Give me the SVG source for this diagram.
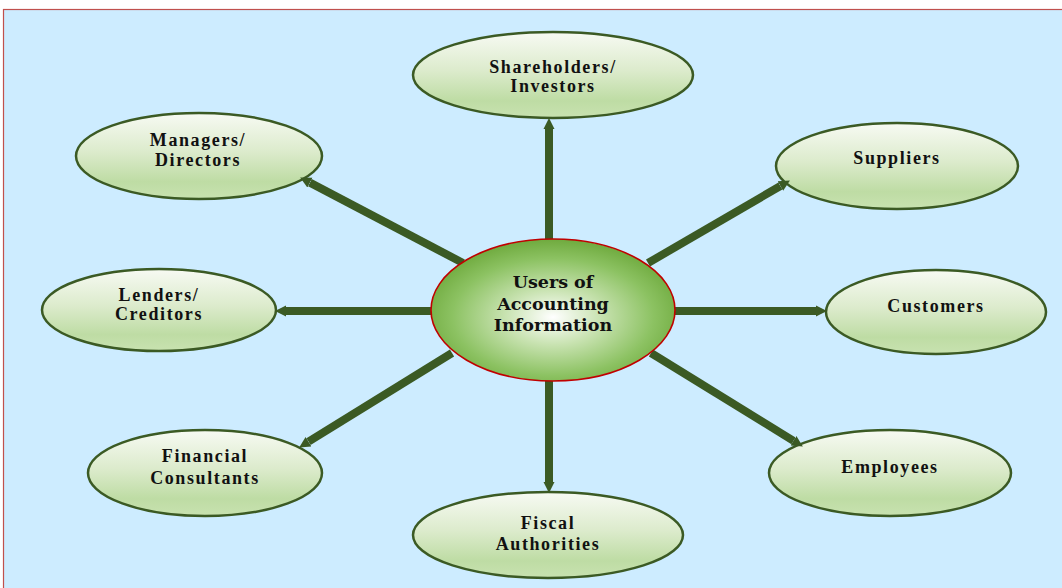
<svg xmlns="http://www.w3.org/2000/svg" width="1062" height="588" viewBox="0 0 1062 588">
  <defs>
    <linearGradient id="nodeFill" x1="0" y1="0" x2="0" y2="1">
      <stop offset="0" stop-color="#f7faf3"/>
      <stop offset="0.45" stop-color="#dcebcc"/>
      <stop offset="0.8" stop-color="#bedca4"/>
      <stop offset="1" stop-color="#c8e2b0"/>
    </linearGradient>
    <radialGradient id="centerFill" cx="0.5" cy="0.55" r="0.55">
      <stop offset="0" stop-color="#ffffff"/>
      <stop offset="0.35" stop-color="#c9e3b2"/>
      <stop offset="0.75" stop-color="#8cc262"/>
      <stop offset="1" stop-color="#6faa3e"/>
    </radialGradient>
    <marker id="arrow" viewBox="0 0 10 10" refX="0" refY="5" markerWidth="11" markerHeight="17" markerUnits="userSpaceOnUse" orient="auto">
      <path d="M0,0 L10,5 L0,10 z" fill="#3b5a24"/>
    </marker>
    <style>
      .node { fill: url(#nodeFill); stroke: #3b5a24; stroke-width: 2.5; }
      .center { fill: url(#centerFill); stroke: #c00000; stroke-width: 1.6; }
      .lbl { font-family: "Liberation Serif", "Times New Roman", serif; font-weight: bold; font-size: 18px; letter-spacing: 1.6px; fill: #111; text-anchor: middle; }
      .clbl { font-family: "DejaVu Serif", "Liberation Serif", serif; font-weight: bold; font-size: 17.5px; fill: #111; text-anchor: middle; }
      .conn { stroke: #3b5a24; stroke-width: 8; fill: none; marker-end: url(#arrow); }
    </style>
  </defs>

  <rect x="0" y="0" width="1062" height="588" fill="#ffffff"/>
  <rect x="3.5" y="9.5" width="1070" height="590" fill="#cdecff" stroke="#c0504d" stroke-width="1.2"/>

  <g id="shareholders">
    <ellipse class="node" cx="553" cy="75" rx="140" ry="43"/>
    <text class="lbl" x="553" y="73">Shareholders/</text>
    <text class="lbl" x="553" y="91.5">Investors</text>
  </g>
  <g id="managers">
    <ellipse class="node" cx="199" cy="156" rx="123" ry="43"/>
    <text class="lbl" x="198" y="146">Managers/</text>
    <text class="lbl" x="198" y="166">Directors</text>
  </g>
  <g id="suppliers">
    <ellipse class="node" cx="897" cy="166" rx="121" ry="43"/>
    <text class="lbl" x="897" y="164">Suppliers</text>
  </g>
  <g id="lenders">
    <ellipse class="node" cx="159" cy="310" rx="117" ry="41"/>
    <text class="lbl" x="159" y="301">Lenders/</text>
    <text class="lbl" x="159" y="320">Creditors</text>
  </g>
  <g id="customers">
    <ellipse class="node" cx="936" cy="312" rx="110" ry="42"/>
    <text class="lbl" x="936" y="312">Customers</text>
  </g>
  <g id="financial-consultants">
    <ellipse class="node" cx="205" cy="473" rx="117" ry="43"/>
    <text class="lbl" x="205" y="462">Financial</text>
    <text class="lbl" x="205" y="484">Consultants</text>
  </g>
  <g id="employees">
    <ellipse class="node" cx="890" cy="473" rx="121" ry="43"/>
    <text class="lbl" x="890" y="473">Employees</text>
  </g>
  <g id="fiscal-authorities">
    <ellipse class="node" cx="548" cy="535" rx="135" ry="43"/>
    <text class="lbl" x="548" y="529">Fiscal</text>
    <text class="lbl" x="548" y="550">Authorities</text>
  </g>

  <g id="connectors">
    <line class="conn" x1="549" y1="245" x2="549" y2="129"/>
    <line class="conn" x1="463" y1="263" x2="309.9" y2="182.6"/>
    <line class="conn" x1="648" y1="263" x2="780.4" y2="186"/>
    <line class="conn" x1="440" y1="311" x2="286" y2="311"/>
    <line class="conn" x1="668" y1="311" x2="816" y2="311"/>
    <line class="conn" x1="452" y1="353" x2="308.5" y2="441.7"/>
    <line class="conn" x1="549" y1="375" x2="549" y2="482"/>
    <line class="conn" x1="651" y1="353" x2="793.5" y2="440.8"/>
  </g>

  <g id="users-of-accounting-information">
    <ellipse class="center" cx="553" cy="310" rx="122" ry="71"/>
    <text class="clbl" x="553" y="288">Users of</text>
    <text class="clbl" x="553" y="310">Accounting</text>
    <text class="clbl" x="553" y="331">Information</text>
  </g>
</svg>
